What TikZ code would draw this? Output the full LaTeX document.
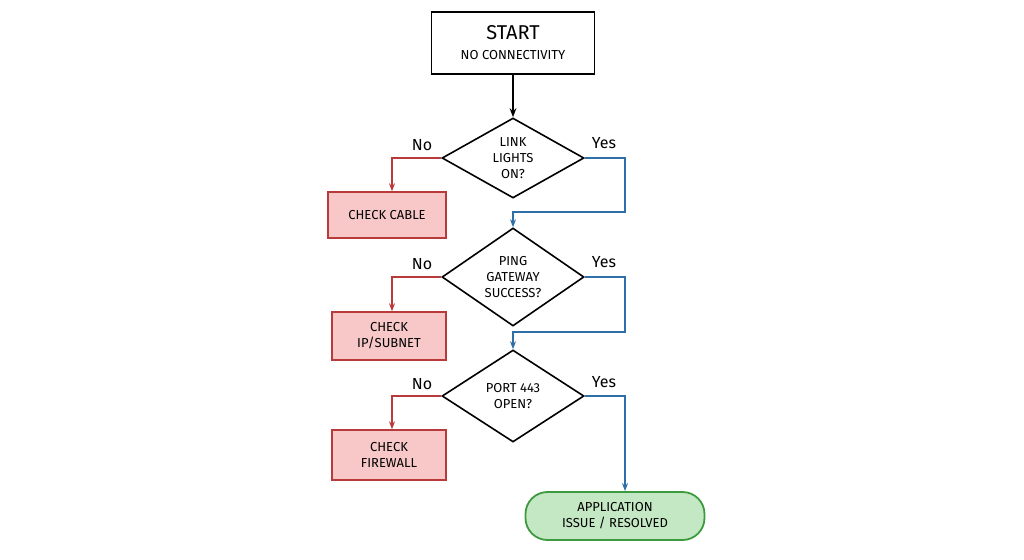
\documentclass[tikz,border=0pt]{standalone}
\usepackage{fontspec}
\setmainfont{Fira Sans}
\usetikzlibrary{shapes.geometric,arrows.meta}
\definecolor{redf}{HTML}{F8C8C8}\definecolor{redd}{HTML}{B83A3A}
\definecolor{bl}{HTML}{2E6FA8}\definecolor{grf}{HTML}{C4E8C4}\definecolor{grd}{HTML}{3E9A3E}
\begin{document}
\begin{tikzpicture}[x=1pt,y=-1pt,
 txt/.style={font=\fontsize{13}{16}\selectfont},
 dec/.style={diamond,draw,line width=1.6pt,aspect=1.45,inner sep=0pt,minimum width=142pt,minimum height=92pt,align=center,txt},
 fix/.style={draw=redd,fill=redf,line width=1.4pt,align=center,txt,inner sep=3pt},
 yes/.style={draw=bl,line width=1.5pt,-{Stealth[length=8pt,open]}},
 no/.style={draw=redd,line width=1.5pt,-{Stealth[length=8pt,open]}},
 lab/.style={font=\fontsize{16}{18}\selectfont}]
\useasboundingbox (0,0) rectangle (1024,559);
\node[draw,line width=1.8pt,minimum width=163pt,minimum height=62pt,align=center,txt] (s) at (513,43) {{\fontsize{20}{22}\selectfont START}\\[4pt] NO CONNECTIVITY};
\node[dec,minimum height=80pt] (d1) at (513,158) {LINK\\LIGHTS\\ON?};
\node[dec,minimum height=98pt] (d2) at (513,277) {PING\\GATEWAY\\SUCCESS?};
\node[dec,minimum height=92pt] (d3) at (513,396) {PORT 443\\OPEN?};
\node[fix,minimum width=118pt,minimum height=46pt] (c1) at (387,215) {CHECK CABLE};
\node[fix,minimum width=114pt,minimum height=48pt] (c2) at (389,336) {CHECK\\IP/SUBNET};
\node[fix,minimum width=114pt,minimum height=50pt] (c3) at (389,455) {CHECK\\FIREWALL};
\node[draw=grd,fill=grf,line width=1.8pt,rounded corners=22pt,minimum width=179pt,minimum height=48pt,align=center,txt] (t) at (615,516) {APPLICATION\\ISSUE / RESOLVED};
\draw[line width=1.8pt,-{Stealth[length=9pt]}] (s) -- (d1);
\coordinate (j1) at (513,212); \coordinate (j2) at (513,332);
\draw[yes] (d1.east) -| (625,212) -- (j1) -- (d2.north);
\draw[yes] (d2.east) -| (625,332) -- (j2) -- (d3.north);
\draw[yes] (d3.east) -| (t.north -| 625,0);
\draw[no] (d1.west) -| (c1.north -| 392,0);
\draw[no] (d2.west) -| (c2.north -| 392,0);
\draw[no] (d3.west) -| (c3.north -| 392,0);
\foreach \y/\d in {145/d1,264/d2,384/d3}{
 \node[lab] at (422,\y) {No}; \node[lab] at (604,\y-2) {Yes};}
\end{tikzpicture}
\end{document}
